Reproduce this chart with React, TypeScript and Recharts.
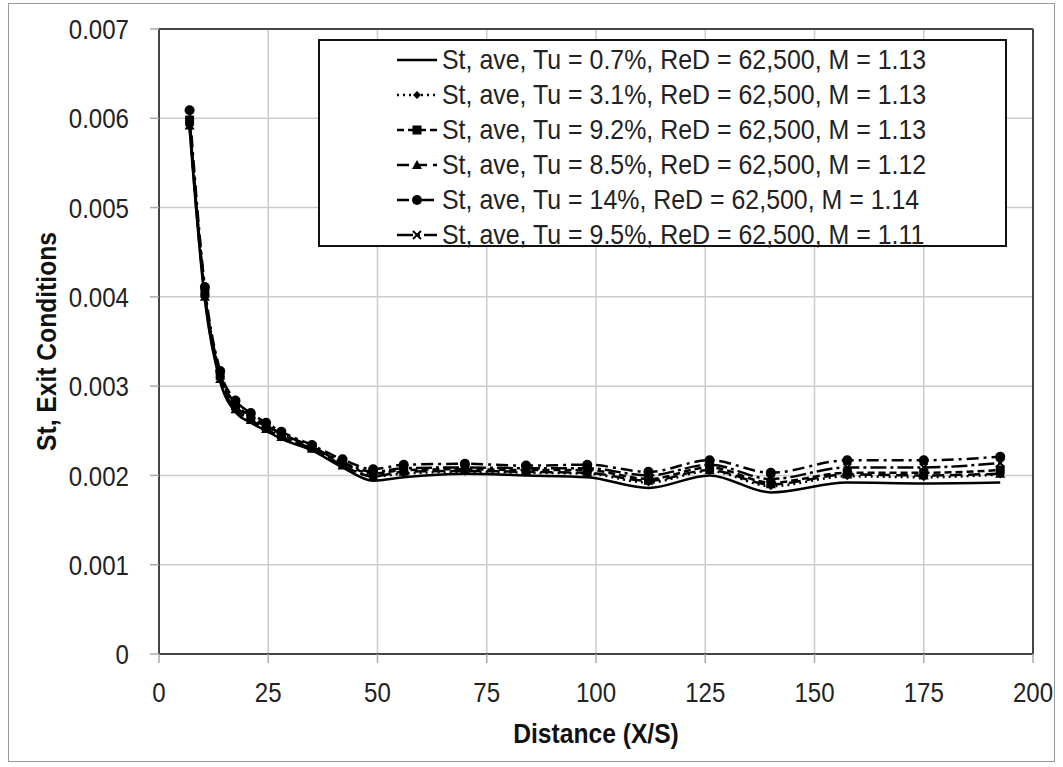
import {
  LineChart,
  Line,
  XAxis,
  YAxis,
  CartesianGrid,
  Legend,
  ReferenceLine,
  Label,
} from "recharts";

const distance = [7, 10.5, 14, 17.5, 21, 24.5, 28, 35, 42, 49, 56, 70, 84, 98, 112, 126, 140, 157.5, 175, 192.5];

const tu07 = [0.00588, 0.00396, 0.00305, 0.00271, 0.00259, 0.0025, 0.00241, 0.00228, 0.00209, 0.00194, 0.00198, 0.00202, 0.002, 0.00198, 0.00186, 0.002, 0.00181, 0.00192, 0.00191, 0.00192];
const tu31 = [0.00594, 0.00402, 0.00309, 0.00275, 0.00263, 0.00253, 0.00244, 0.0023, 0.00212, 0.00199, 0.00202, 0.00204, 0.00203, 0.00202, 0.00192, 0.00205, 0.00188, 0.00199, 0.00198, 0.00201];
const tu92 = [0.00598, 0.00404, 0.00312, 0.00278, 0.00265, 0.00255, 0.00246, 0.00232, 0.00214, 0.00202, 0.00206, 0.00207, 0.00206, 0.00206, 0.00196, 0.00209, 0.00192, 0.00203, 0.00203, 0.00206];
const tu85 = [0.00592, 0.004, 0.00308, 0.00274, 0.00262, 0.00252, 0.00243, 0.0023, 0.00211, 0.00199, 0.00204, 0.00205, 0.00204, 0.00203, 0.00194, 0.00206, 0.0019, 0.00201, 0.002, 0.00202];
const tu14 = [0.00609, 0.00411, 0.00317, 0.00284, 0.0027, 0.00259, 0.00249, 0.00234, 0.00218, 0.00207, 0.00212, 0.00213, 0.00211, 0.00212, 0.00204, 0.00217, 0.00203, 0.00217, 0.00217, 0.00221];
const tu95 = [0.00596, 0.00406, 0.00314, 0.0028, 0.00267, 0.00256, 0.00247, 0.00232, 0.00215, 0.00204, 0.00208, 0.00209, 0.00208, 0.00208, 0.002, 0.00212, 0.00196, 0.00209, 0.00209, 0.00214];

const xTicks = [0, 25, 50, 75, 100, 125, 150, 175, 200];
const yTicks = [0, 0.001, 0.002, 0.003, 0.004, 0.005, 0.006, 0.007];

const series = [
  { key: "tu07", name: "St, ave, Tu = 0.7%, ReD = 62,500, M = 1.13", values: tu07, dash: undefined, shape: "none" },
  { key: "tu31", name: "St, ave, Tu = 3.1%, ReD = 62,500, M = 1.13", values: tu31, dash: "2 4", shape: "diamond" },
  { key: "tu92", name: "St, ave, Tu = 9.2%, ReD = 62,500, M = 1.13", values: tu92, dash: "7 4", shape: "square" },
  { key: "tu85", name: "St, ave, Tu = 8.5%, ReD = 62,500, M = 1.12", values: tu85, dash: "12 6", shape: "triangle" },
  { key: "tu14", name: "St, ave, Tu = 14%, ReD = 62,500, M = 1.14", values: tu14, dash: "12 5 3 5", shape: "circle" },
  { key: "tu95", name: "St, ave, Tu = 9.5%, ReD = 62,500, M = 1.11", values: tu95, dash: "16 4 3 4", shape: "x" },
];

const data = distance.map((x, i) => {
  const row: any = { x };
  series.forEach((s) => (row[s.key] = s.values[i]));
  return row;
});

const FONT = "'Liberation Sans', Arial, sans-serif";
// reference uses a narrow face; squeeze the regular one horizontally
const SQUEEZE = 0.86;

const Marker = ({ cx, cy, shape }: { cx: number; cy: number; shape: string }) => {
  if (cx == null || cy == null) return <g />;
  switch (shape) {
    case "diamond":
      return <polygon points={`${cx},${cy - 4} ${cx + 4},${cy} ${cx},${cy + 4} ${cx - 4},${cy}`} fill="#000" />;
    case "square":
      return <rect x={cx - 4.5} y={cy - 4.5} width={9} height={9} fill="#000" />;
    case "triangle":
      return <polygon points={`${cx},${cy - 5} ${cx + 5},${cy + 4} ${cx - 5},${cy + 4}`} fill="#000" />;
    case "circle":
      return <circle cx={cx} cy={cy} r={5} fill="#000" />;
    case "x":
      return (
        <g stroke="#000" strokeWidth={2}>
          <line x1={cx - 4} y1={cy - 4} x2={cx + 4} y2={cy + 4} />
          <line x1={cx - 4} y1={cy + 4} x2={cx + 4} y2={cy - 4} />
        </g>
      );
    default:
      return <g />;
  }
};

const XTick = ({ x, y, payload }: any) => (
  <text
    transform={`translate(${x},${y}) scale(${SQUEEZE},1)`}
    textAnchor="middle"
    dy="0.71em"
    fontSize={28}
    fill="#222"
    fontFamily={FONT}
  >
    {payload.value}
  </text>
);

const YTick = ({ x, y, payload }: any) => (
  <text
    transform={`translate(${x},${y}) scale(${SQUEEZE},1)`}
    textAnchor="end"
    dy="0.36em"
    fontSize={28}
    fill="#222"
    fontFamily={FONT}
  >
    {payload.value === 0 ? "0" : payload.value.toFixed(3)}
  </text>
);

const XTitle = ({ viewBox }: any) => (
  <text
    transform={`translate(${viewBox.x + viewBox.width / 2},${viewBox.y + 89}) scale(0.88,1)`}
    textAnchor="middle"
    fontSize={28}
    fontWeight="bold"
    fill="#111"
    fontFamily={FONT}
  >
    Distance (X/S)
  </text>
);

const YTitle = ({ viewBox }: any) => (
  <text
    transform={`translate(${viewBox.x + 26},${viewBox.y + viewBox.height / 2}) rotate(-90) scale(0.88,1)`}
    textAnchor="middle"
    dominantBaseline="central"
    fontSize={28}
    fontWeight="bold"
    fill="#111"
    fontFamily={FONT}
  >
    St, Exit Conditions
  </text>
);

const LegendBox = () => (
  <div
    style={{
      width: 689,
      height: 208,
      border: "2px solid #111",
      boxSizing: "border-box",
      background: "#fff",
      position: "relative",
      fontFamily: FONT,
    }}
  >
    {series.map((s, i) => (
      <div
        key={s.key}
        style={{ position: "absolute", left: 76, top: 2 + i * 35, height: 34, display: "flex", alignItems: "center" }}
      >
        <svg width={42} height={20}>
          <line x1={1} y1={10} x2={41} y2={10} stroke="#000" strokeWidth={2.5} strokeDasharray={s.dash} />
          <Marker cx={21} cy={10} shape={s.shape} />
        </svg>
        <span
          style={{
            fontSize: 28,
            color: "#222",
            marginLeft: 4,
            whiteSpace: "nowrap",
            display: "inline-block",
            transform: "scaleX(0.89)",
            transformOrigin: "left center",
          }}
        >
          {s.name}
        </span>
      </div>
    ))}
  </div>
);

const App = () => {
  return (
    <div style={{ position: "absolute", left: 0, top: 0, width: 1063, height: 767, background: "#fff" }}>
      <div
        style={{
          position: "absolute",
          left: 8,
          top: 3,
          width: 1047,
          height: 759,
          border: "1px solid #9a9a9a",
          boxSizing: "border-box",
        }}
      />
      <LineChart
        width={1063}
        height={767}
        data={data}
        margin={{ top: 29, right: 30, left: 20, bottom: 13 }}
        style={{ position: "absolute", left: 0, top: 0, fontFamily: FONT }}
      >
        <CartesianGrid stroke="#cccccc" strokeWidth={1.5} />
        <XAxis
          dataKey="x"
          type="number"
          domain={[0, 200]}
          ticks={xTicks}
          interval={0}
          height={100}
          tickSize={9}
          tickMargin={19}
          stroke="#444"
          strokeWidth={2}
          tickLine={{ stroke: "#aaa", strokeWidth: 1.5 }}
          tick={<XTick />}
        >
          <Label content={<XTitle />} />
        </XAxis>
        <YAxis
          type="number"
          domain={[0, 0.007]}
          ticks={yTicks}
          interval={0}
          width={139}
          tickSize={9}
          tickMargin={21}
          stroke="#444"
          strokeWidth={2}
          tickLine={{ stroke: "#aaa", strokeWidth: 1.5 }}
          tick={<YTick />}
        >
          <Label content={<YTitle />} />
        </YAxis>
        <ReferenceLine x={200} stroke="#444" strokeWidth={2} />
        <ReferenceLine y={0.007} stroke="#444" strokeWidth={2} />
        {series.map((s) => (
          <Line
            key={s.key}
            dataKey={s.key}
            name={s.name}
            type="monotone"
            stroke="#000"
            strokeWidth={2.5}
            strokeDasharray={s.dash}
            isAnimationActive={false}
            dot={
              s.shape === "none"
                ? false
                : (p: any) => <Marker key={`${s.key}-${p.index}`} cx={p.cx} cy={p.cy} shape={s.shape} />
            }
            activeDot={false}
          />
        ))}
        <Legend
          layout="horizontal"
          verticalAlign="middle"
          align="center"
          content={LegendBox}
          wrapperStyle={{ left: 318, top: 39, width: 689, height: 208 }}
        />
      </LineChart>
    </div>
  );
};

export default App;
